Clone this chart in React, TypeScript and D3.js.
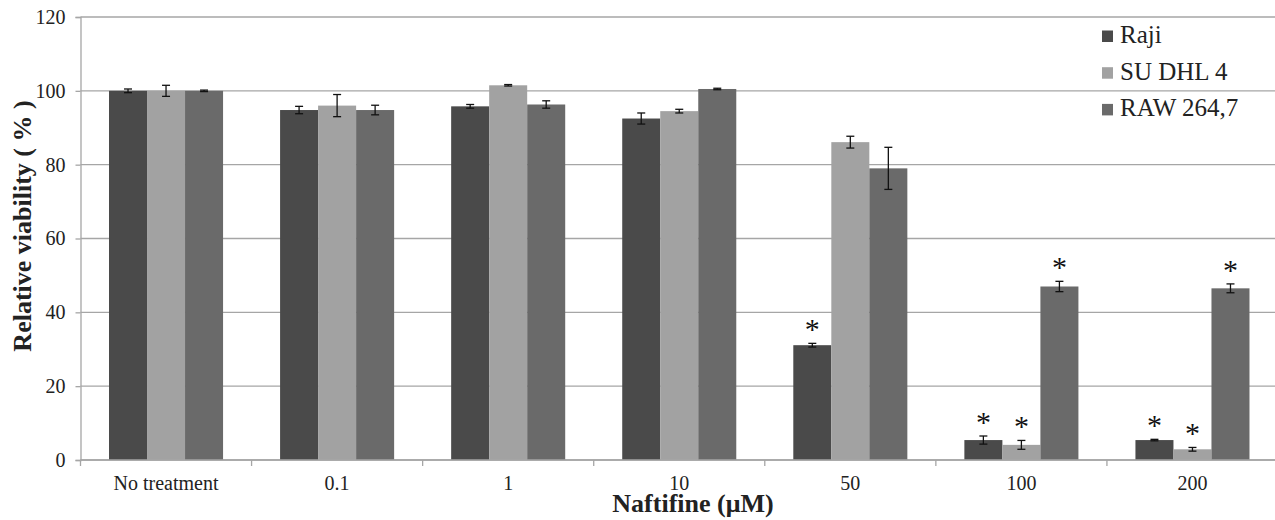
import React, { useRef, useEffect } from 'react';
import * as d3 from 'd3';

const categories = ['No treatment', '0.1', '1', '10', '50', '100', '200'];
const seriesNames = ['Raji', 'SU DHL 4', 'RAW 264,7'];
const rajiValues = [100, 94.8, 95.8, 92.5, 31.1, 5.4, 5.4];
const suValues = [100, 96, 101.5, 94.5, 86.1, 4.1, 2.9];
const rawValues = [100, 94.8, 96.3, 100.5, 79, 47, 46.5];
const rajiErrors = [0.5, 1.0, 0.5, 1.5, 0.5, 1.1, 0.2];
const suErrors = [1.5, 3.0, 0.2, 0.5, 1.6, 1.2, 0.5];
const rawErrors = [0.2, 1.3, 1.0, 0.2, 5.7, 1.4, 1.2];
// significance marks (1 = asterisk)
const rajiStars = [0, 0, 0, 0, 1, 1, 1];
const suStars = [0, 0, 0, 0, 0, 1, 1];
const rawStars = [0, 0, 0, 0, 0, 1, 1];
const yTicks = [0, 20, 40, 60, 80, 100, 120];
const colors = ['#4a4a4a', '#a2a2a2', '#6a6a6a'];

const App = () => {
  const svgRef = useRef<SVGSVGElement>(null);
  const width = 1275;
  const height = 520;

  useEffect(() => {
    const margin = { top: 17, right: -3, bottom: 60, left: 80.5 };
    const svg = d3.select(svgRef.current);
    svg.selectAll('*').remove();
    const font = '"Liberation Serif", "Times New Roman", serif';
    svg.style('font-family', font);

    const values = [rajiValues, suValues, rawValues];
    const errors = [rajiErrors, suErrors, rawErrors];
    const stars = [rajiStars, suStars, rawStars];

    const x = d3.scaleBand()
      .domain(categories)
      .range([margin.left, width - margin.right])
      .paddingInner(0)
      .paddingOuter(0);

    // three bars per group, centred in the band
    const xInner = d3.scaleBand()
      .domain(seriesNames)
      .range([0, x.bandwidth()])
      .paddingOuter(0.75)
      .paddingInner(0);

    const y = d3.scaleLinear()
      .domain([0, 120])
      .range([height - margin.bottom, margin.top]);

    // gridlines
    svg.append('g')
      .selectAll('line')
      .data(yTicks)
      .enter()
      .append('line')
      .attr('x1', margin.left)
      .attr('x2', width)
      .attr('y1', d => y(d))
      .attr('y2', d => y(d))
      .attr('stroke', '#a6a6a6')
      .attr('stroke-width', 1.3);

    // bars
    seriesNames.forEach((s, si) => {
      const g = svg.append('g');
      g.selectAll('rect')
        .data(values[si])
        .enter()
        .append('rect')
        .attr('x', (d, i) => x(categories[i])! + xInner(s)!)
        .attr('y', d => y(d))
        .attr('width', xInner.bandwidth())
        .attr('height', d => y(0) - y(d))
        .attr('fill', colors[si]);

      // error bars + asterisks
      values[si].forEach((v, i) => {
        const cx = x(categories[i])! + xInner(s)! + xInner.bandwidth() / 2;
        const e = errors[si][i];
        const eg = svg.append('g').attr('stroke', '#111').attr('stroke-width', 1.3);
        eg.append('line').attr('x1', cx).attr('x2', cx).attr('y1', y(v + e)).attr('y2', y(v - e));
        eg.append('line').attr('x1', cx - 4).attr('x2', cx + 4).attr('y1', y(v + e)).attr('y2', y(v + e));
        eg.append('line').attr('x1', cx - 4).attr('x2', cx + 4).attr('y1', y(v - e)).attr('y2', y(v - e));
        if (stars[si][i]) {
          svg.append('text')
            .attr('x', cx)
            .attr('y', y(v + e) - 4)
            .attr('text-anchor', 'middle')
            .style('font-family', font)
            .attr('font-size', 30)
            .attr('fill', '#111')
            .text('*');
        }
      });
    });

    // y axis
    const yAxis = svg.append('g')
      .attr('transform', `translate(${margin.left},0)`)
      .call(d3.axisLeft(y).tickValues(yTicks).tickSize(5).tickPadding(10));
    yAxis.attr('font-family', null).style('font-family', font);
    yAxis.select('.domain').attr('stroke', '#a6a6a6').attr('stroke-width', 1.3);
    yAxis.selectAll('.tick line').attr('stroke', '#a6a6a6').attr('stroke-width', 1.3);
    yAxis.selectAll('.tick text')
      .style('font-family', font)
      .style('font-size', '20px')
      .attr('fill', '#222');

    // x axis
    const xAxisG = svg.append('g').attr('transform', `translate(0,${y(0)})`);
    xAxisG.append('line')
      .attr('x1', margin.left)
      .attr('x2', width)
      .attr('y1', 0)
      .attr('y2', 0)
      .attr('stroke', '#a6a6a6')
      .attr('stroke-width', 1.3);
    xAxisG.selectAll('.xtick')
      .data(categories)
      .enter()
      .append('line')
      .attr('x1', d => x(d)!)
      .attr('x2', d => x(d)!)
      .attr('y1', 0)
      .attr('y2', 6)
      .attr('stroke', '#a6a6a6')
      .attr('stroke-width', 1.3);
    xAxisG.selectAll('.xlabel')
      .data(categories)
      .enter()
      .append('text')
      .attr('x', d => x(d)! + x.bandwidth() / 2)
      .attr('y', 30)
      .attr('text-anchor', 'middle')
      .style('font-family', font)
      .attr('font-size', 20)
      .attr('fill', '#222')
      .text(d => d);

    // axis titles
    svg.append('text')
      .attr('x', 693)
      .attr('y', 512)
      .attr('text-anchor', 'middle')
      .style('font-family', font)
      .attr('font-weight', 'bold')
      .attr('font-size', 26)
      .attr('fill', '#222')
      .text('Naftifine (μM)');

    svg.append('text')
      .attr('transform', 'translate(31,226) rotate(-90)')
      .attr('text-anchor', 'middle')
      .style('font-family', font)
      .attr('font-weight', 'bold')
      .attr('font-size', 26)
      .attr('fill', '#222')
      .text('Relative viability ( % )');

    // legend
    const legend = svg.append('g').attr('transform', 'translate(1102,0)');
    seriesNames.forEach((s, i) => {
      const base = 43 + i * 36.7;
      legend.append('rect')
        .attr('x', 0)
        .attr('y', base - 12.5)
        .attr('width', 11)
        .attr('height', 11.5)
        .attr('fill', colors[i]);
      legend.append('text')
        .attr('x', 18)
        .attr('y', base)
        .style('font-family', font)
        .attr('font-size', 25)
        .attr('fill', '#222')
        .text(s);
    });
  }, []);

  return <svg ref={svgRef} width={width} height={height} style={{ position: 'absolute', left: 0, top: 0 }}></svg>;
};

export default App;
